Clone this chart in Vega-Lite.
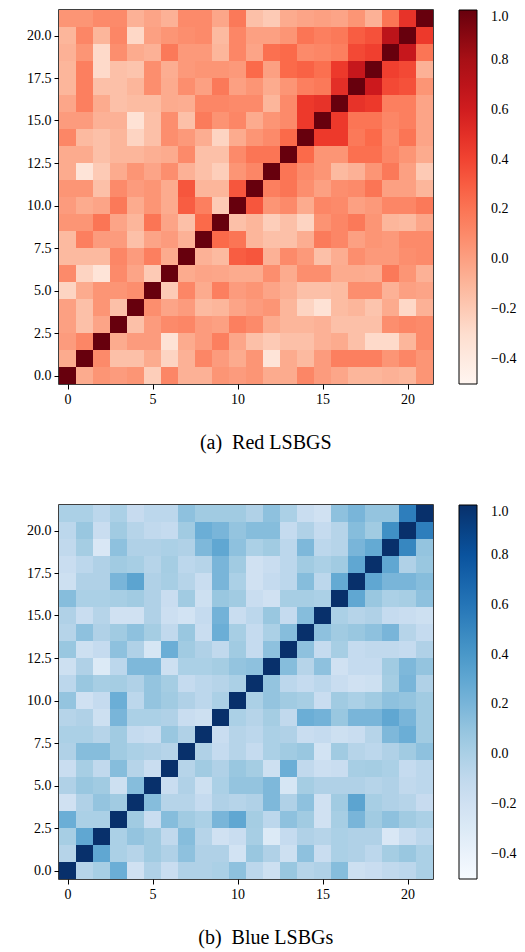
{
"$schema":"https://vega.github.io/schema/vega-lite/v6.json",
"padding":{"left":25,"top":9,"right":5,"bottom":0},
"config":{
"view":{"stroke":"black","strokeWidth":1.5},
"axis":{"labelFont":"Liberation Serif, DejaVu Serif, serif","labelFontSize":14,"labelColor":"black","tickColor":"black","tickSize":5,"tickWidth":1,"domain":false,"grid":false,"labelPadding":3},
"legend":{"labelFont":"Liberation Serif, DejaVu Serif, serif","labelFontSize":14,"labelColor":"black","padding":0},
"title":{"font":"Liberation Serif, DejaVu Serif, serif","fontSize":20,"fontWeight":"normal","color":"black"}
},
"spacing":50,
"resolve":{"scale":{"color":"independent"}},
"vconcat":[
{"width":374,"height":374,
"title":{"text":"(a)\u2002Red LSBGS","orient":"bottom","offset":27,"frame":"bounds","anchor":"middle","dx":-6},
"data":{"name":"red"},
"layer":[
{"mark":{"type":"rect"},
"encoding":{
"x":{"field":"x","type":"ordinal","axis":null,"scale":{"paddingInner":0,"paddingOuter":0}},
"y":{"field":"y","type":"ordinal","axis":null,"sort":"descending","scale":{"paddingInner":0,"paddingOuter":0}},
"color":{"field":"v","type":"quantitative","scale":{"domain":[-0.5,-0.3125,-0.125,0.0625,0.25,0.4375,0.625,0.8125,1.0],"range":["#fff5f0","#fee0d2","#fcbba1","#fc9272","#fb6a4a","#ef3b2c","#cb181d","#a50f15","#67000d"],"interpolate":"rgb"},
"legend":{"title":null,"values":[-0.4,-0.2,0,0.2,0.4,0.6,0.8,1.0],"format":".1f","gradientLength":374,"gradientThickness":18,"offset":26,"gradientStrokeColor":"black","gradientStrokeWidth":1,"labelOffset":14,"labelBaseline":"middle"}}
}},
{"mark":{"type":"point","opacity":0},
"encoding":{
"x":{"field":"x","type":"quantitative","scale":{"domain":[-0.5,21.5],"nice":false,"zero":false},"axis":{"orient":"bottom","values":[0,5,10,15,20],"format":"d","title":null}},
"y":{"field":"y","type":"quantitative","scale":{"domain":[-0.5,21.5],"nice":false,"zero":false},"axis":{"orient":"left","values":[0,2.5,5,7.5,10,12.5,15,17.5,20],"format":".1f","title":null}}
}}
],
"resolve":{"scale":{"x":"independent","y":"independent"}}
},
{"width":374,"height":374,
"title":{"text":"(b)\u2002Blue LSBGs","orient":"bottom","offset":27,"frame":"bounds","anchor":"middle","dx":-6},
"data":{"name":"blue"},
"layer":[
{"mark":{"type":"rect"},
"encoding":{
"x":{"field":"x","type":"ordinal","axis":null,"scale":{"paddingInner":0,"paddingOuter":0}},
"y":{"field":"y","type":"ordinal","axis":null,"sort":"descending","scale":{"paddingInner":0,"paddingOuter":0}},
"color":{"field":"v","type":"quantitative","scale":{"domain":[-0.5,-0.3125,-0.125,0.0625,0.25,0.4375,0.625,0.8125,1.0],"range":["#f7fbff","#deebf7","#c6dbef","#9ecae1","#6baed6","#4292c6","#2171b5","#08519c","#08306b"],"interpolate":"rgb"},
"legend":{"title":null,"values":[-0.4,-0.2,0,0.2,0.4,0.6,0.8,1.0],"format":".1f","gradientLength":374,"gradientThickness":18,"offset":26,"gradientStrokeColor":"black","gradientStrokeWidth":1,"labelOffset":14,"labelBaseline":"middle"}}
}},
{"mark":{"type":"point","opacity":0},
"encoding":{
"x":{"field":"x","type":"quantitative","scale":{"domain":[-0.5,21.5],"nice":false,"zero":false},"axis":{"orient":"bottom","values":[0,5,10,15,20],"format":"d","title":null}},
"y":{"field":"y","type":"quantitative","scale":{"domain":[-0.5,21.5],"nice":false,"zero":false},"axis":{"orient":"left","values":[0,2.5,5,7.5,10,12.5,15,17.5,20],"format":".1f","title":null}}
}}
],
"resolve":{"scale":{"x":"independent","y":"independent"}}
}
],
"datasets":{
"red":[
{"x":0,"y":21,"v":0.05},{"x":1,"y":21,"v":0.05},{"x":2,"y":21,"v":0.1},{"x":3,"y":21,"v":0.1},{"x":4,"y":21,"v":-0.08},{"x":5,"y":21,"v":-0.02},{"x":6,"y":21,"v":-0.08},{"x":7,"y":21,"v":0.1},{"x":8,"y":21,"v":0.1},{"x":9,"y":21,"v":-0.03},{"x":10,"y":21,"v":0.18},{"x":11,"y":21,"v":-0.15},{"x":12,"y":21,"v":-0.2},{"x":13,"y":21,"v":-0.05},{"x":14,"y":21,"v":-0.02},{"x":15,"y":21,"v":0.0},{"x":16,"y":21,"v":-0.02},{"x":17,"y":21,"v":0.05},{"x":18,"y":21,"v":-0.08},{"x":19,"y":21,"v":0.2},{"x":20,"y":21,"v":0.48},{"x":21,"y":21,"v":1.0},
{"x":0,"y":20,"v":-0.1},{"x":1,"y":20,"v":0.12},{"x":2,"y":20,"v":-0.1},{"x":3,"y":20,"v":0.12},{"x":4,"y":20,"v":-0.27},{"x":5,"y":20,"v":0.0},{"x":6,"y":20,"v":0.05},{"x":7,"y":20,"v":0.08},{"x":8,"y":20,"v":0.1},{"x":9,"y":20,"v":-0.12},{"x":10,"y":20,"v":0.12},{"x":11,"y":20,"v":0.0},{"x":12,"y":20,"v":0.0},{"x":13,"y":20,"v":0.05},{"x":14,"y":20,"v":0.2},{"x":15,"y":20,"v":0.15},{"x":16,"y":20,"v":0.18},{"x":17,"y":20,"v":0.3},{"x":18,"y":20,"v":0.35},{"x":19,"y":20,"v":0.7},{"x":20,"y":20,"v":1.0},{"x":21,"y":20,"v":0.45},
{"x":0,"y":19,"v":-0.08},{"x":1,"y":19,"v":0.05},{"x":2,"y":19,"v":-0.28},{"x":3,"y":19,"v":0.08},{"x":4,"y":19,"v":-0.05},{"x":5,"y":19,"v":-0.08},{"x":6,"y":19,"v":0.18},{"x":7,"y":19,"v":0.03},{"x":8,"y":19,"v":0.03},{"x":9,"y":19,"v":-0.1},{"x":10,"y":19,"v":0.12},{"x":11,"y":19,"v":-0.02},{"x":12,"y":19,"v":0.22},{"x":13,"y":19,"v":0.25},{"x":14,"y":19,"v":0.1},{"x":15,"y":19,"v":0.12},{"x":16,"y":19,"v":0.15},{"x":17,"y":19,"v":0.38},{"x":18,"y":19,"v":0.42},{"x":19,"y":19,"v":1.0},{"x":20,"y":19,"v":0.65},{"x":21,"y":19,"v":0.2},
{"x":0,"y":18,"v":-0.1},{"x":1,"y":18,"v":0.15},{"x":2,"y":18,"v":-0.28},{"x":3,"y":18,"v":-0.15},{"x":4,"y":18,"v":-0.17},{"x":5,"y":18,"v":0.08},{"x":6,"y":18,"v":-0.06},{"x":7,"y":18,"v":0.03},{"x":8,"y":18,"v":0.05},{"x":9,"y":18,"v":0.05},{"x":10,"y":18,"v":0.03},{"x":11,"y":18,"v":0.25},{"x":12,"y":18,"v":0.0},{"x":13,"y":18,"v":0.25},{"x":14,"y":18,"v":0.28},{"x":15,"y":18,"v":0.22},{"x":16,"y":18,"v":0.45},{"x":17,"y":18,"v":0.65},{"x":18,"y":18,"v":1.0},{"x":19,"y":18,"v":0.42},{"x":20,"y":18,"v":0.38},{"x":21,"y":18,"v":-0.08},
{"x":0,"y":17,"v":-0.1},{"x":1,"y":17,"v":0.15},{"x":2,"y":17,"v":-0.15},{"x":3,"y":17,"v":-0.15},{"x":4,"y":17,"v":-0.1},{"x":5,"y":17,"v":0.08},{"x":6,"y":17,"v":-0.05},{"x":7,"y":17,"v":0.08},{"x":8,"y":17,"v":0.0},{"x":9,"y":17,"v":0.18},{"x":10,"y":17,"v":0.0},{"x":11,"y":17,"v":0.05},{"x":12,"y":17,"v":-0.05},{"x":13,"y":17,"v":0.05},{"x":14,"y":17,"v":0.15},{"x":15,"y":17,"v":0.18},{"x":16,"y":17,"v":0.5},{"x":17,"y":17,"v":1.0},{"x":18,"y":17,"v":0.62},{"x":19,"y":17,"v":0.38},{"x":20,"y":17,"v":0.35},{"x":21,"y":17,"v":0.05},
{"x":0,"y":16,"v":-0.03},{"x":1,"y":16,"v":0.15},{"x":2,"y":16,"v":-0.05},{"x":3,"y":16,"v":-0.15},{"x":4,"y":16,"v":-0.13},{"x":5,"y":16,"v":-0.13},{"x":6,"y":16,"v":-0.05},{"x":7,"y":16,"v":-0.06},{"x":8,"y":16,"v":0.12},{"x":9,"y":16,"v":0.12},{"x":10,"y":16,"v":0.1},{"x":11,"y":16,"v":0.1},{"x":12,"y":16,"v":-0.1},{"x":13,"y":16,"v":0.1},{"x":14,"y":16,"v":0.45},{"x":15,"y":16,"v":0.48},{"x":16,"y":16,"v":1.0},{"x":17,"y":16,"v":0.48},{"x":18,"y":16,"v":0.45},{"x":19,"y":16,"v":0.15},{"x":20,"y":16,"v":0.15},{"x":21,"y":16,"v":-0.02},
{"x":0,"y":15,"v":0.02},{"x":1,"y":15,"v":0.02},{"x":2,"y":15,"v":-0.08},{"x":3,"y":15,"v":-0.08},{"x":4,"y":15,"v":-0.33},{"x":5,"y":15,"v":-0.15},{"x":6,"y":15,"v":0.08},{"x":7,"y":15,"v":-0.15},{"x":8,"y":15,"v":0.17},{"x":9,"y":15,"v":0.06},{"x":10,"y":15,"v":0.12},{"x":11,"y":15,"v":-0.05},{"x":12,"y":15,"v":0.05},{"x":13,"y":15,"v":0.1},{"x":14,"y":15,"v":0.45},{"x":15,"y":15,"v":1.0},{"x":16,"y":15,"v":0.45},{"x":17,"y":15,"v":0.2},{"x":18,"y":15,"v":0.2},{"x":19,"y":15,"v":0.12},{"x":20,"y":15,"v":0.15},{"x":21,"y":15,"v":-0.02},
{"x":0,"y":14,"v":0.12},{"x":1,"y":14,"v":-0.12},{"x":2,"y":14,"v":-0.15},{"x":3,"y":14,"v":-0.1},{"x":4,"y":14,"v":-0.25},{"x":5,"y":14,"v":-0.15},{"x":6,"y":14,"v":0.08},{"x":7,"y":14,"v":0.03},{"x":8,"y":14,"v":-0.06},{"x":9,"y":14,"v":-0.25},{"x":10,"y":14,"v":-0.05},{"x":11,"y":14,"v":0.05},{"x":12,"y":14,"v":0.1},{"x":13,"y":14,"v":0.25},{"x":14,"y":14,"v":1.0},{"x":15,"y":14,"v":0.45},{"x":16,"y":14,"v":0.45},{"x":17,"y":14,"v":0.18},{"x":18,"y":14,"v":0.25},{"x":19,"y":14,"v":0.1},{"x":20,"y":14,"v":0.2},{"x":21,"y":14,"v":-0.02},
{"x":0,"y":13,"v":-0.05},{"x":1,"y":13,"v":-0.05},{"x":2,"y":13,"v":-0.15},{"x":3,"y":13,"v":-0.1},{"x":4,"y":13,"v":-0.1},{"x":5,"y":13,"v":-0.07},{"x":6,"y":13,"v":-0.05},{"x":7,"y":13,"v":0.1},{"x":8,"y":13,"v":-0.15},{"x":9,"y":13,"v":-0.15},{"x":10,"y":13,"v":0.1},{"x":11,"y":13,"v":0.2},{"x":12,"y":13,"v":0.2},{"x":13,"y":13,"v":1.0},{"x":14,"y":13,"v":0.25},{"x":15,"y":13,"v":0.05},{"x":16,"y":13,"v":0.05},{"x":17,"y":13,"v":0.22},{"x":18,"y":13,"v":0.22},{"x":19,"y":13,"v":0.12},{"x":20,"y":13,"v":0.05},{"x":21,"y":13,"v":-0.05},
{"x":0,"y":12,"v":-0.05},{"x":1,"y":12,"v":-0.35},{"x":2,"y":12,"v":-0.2},{"x":3,"y":12,"v":-0.05},{"x":4,"y":12,"v":0.05},{"x":5,"y":12,"v":-0.02},{"x":6,"y":12,"v":0.08},{"x":7,"y":12,"v":-0.08},{"x":8,"y":12,"v":-0.15},{"x":9,"y":12,"v":-0.22},{"x":10,"y":12,"v":0.05},{"x":11,"y":12,"v":0.12},{"x":12,"y":12,"v":1.0},{"x":13,"y":12,"v":0.2},{"x":14,"y":12,"v":0.1},{"x":15,"y":12,"v":0.05},{"x":16,"y":12,"v":-0.12},{"x":17,"y":12,"v":-0.08},{"x":18,"y":12,"v":0.05},{"x":19,"y":12,"v":0.18},{"x":20,"y":12,"v":0.0},{"x":21,"y":12,"v":-0.2},
{"x":0,"y":11,"v":0.05},{"x":1,"y":11,"v":0.05},{"x":2,"y":11,"v":-0.15},{"x":3,"y":11,"v":0.1},{"x":4,"y":11,"v":0.02},{"x":5,"y":11,"v":0.05},{"x":6,"y":11,"v":-0.05},{"x":7,"y":11,"v":0.33},{"x":8,"y":11,"v":-0.1},{"x":9,"y":11,"v":-0.1},{"x":10,"y":11,"v":0.33},{"x":11,"y":11,"v":1.0},{"x":12,"y":11,"v":0.15},{"x":13,"y":11,"v":0.2},{"x":14,"y":11,"v":0.08},{"x":15,"y":11,"v":0.0},{"x":16,"y":11,"v":0.08},{"x":17,"y":11,"v":0.1},{"x":18,"y":11,"v":0.2},{"x":19,"y":11,"v":0.0},{"x":20,"y":11,"v":0.0},{"x":21,"y":11,"v":-0.1},
{"x":0,"y":10,"v":0.02},{"x":1,"y":10,"v":-0.05},{"x":2,"y":10,"v":-0.02},{"x":3,"y":10,"v":0.18},{"x":4,"y":10,"v":-0.05},{"x":5,"y":10,"v":0.05},{"x":6,"y":10,"v":-0.05},{"x":7,"y":10,"v":0.3},{"x":8,"y":10,"v":0.15},{"x":9,"y":10,"v":-0.2},{"x":10,"y":10,"v":1.0},{"x":11,"y":10,"v":0.33},{"x":12,"y":10,"v":0.05},{"x":13,"y":10,"v":0.1},{"x":14,"y":10,"v":-0.05},{"x":15,"y":10,"v":0.12},{"x":16,"y":10,"v":0.1},{"x":17,"y":10,"v":0.0},{"x":18,"y":10,"v":0.03},{"x":19,"y":10,"v":0.12},{"x":20,"y":10,"v":0.12},{"x":21,"y":10,"v":0.18},
{"x":0,"y":9,"v":0.05},{"x":1,"y":9,"v":0.05},{"x":2,"y":9,"v":0.2},{"x":3,"y":9,"v":-0.02},{"x":4,"y":9,"v":-0.1},{"x":5,"y":9,"v":0.2},{"x":6,"y":9,"v":-0.02},{"x":7,"y":9,"v":-0.15},{"x":8,"y":9,"v":0.25},{"x":9,"y":9,"v":1.0},{"x":10,"y":9,"v":-0.15},{"x":11,"y":9,"v":-0.1},{"x":12,"y":9,"v":-0.22},{"x":13,"y":9,"v":-0.15},{"x":14,"y":9,"v":-0.25},{"x":15,"y":9,"v":0.06},{"x":16,"y":9,"v":0.12},{"x":17,"y":9,"v":0.18},{"x":18,"y":9,"v":0.05},{"x":19,"y":9,"v":-0.1},{"x":20,"y":9,"v":-0.12},{"x":21,"y":9,"v":-0.03},
{"x":0,"y":8,"v":-0.12},{"x":1,"y":8,"v":0.15},{"x":2,"y":8,"v":0.02},{"x":3,"y":8,"v":0.02},{"x":4,"y":8,"v":-0.15},{"x":5,"y":8,"v":-0.02},{"x":6,"y":8,"v":0.02},{"x":7,"y":8,"v":-0.08},{"x":8,"y":8,"v":1.0},{"x":9,"y":8,"v":0.25},{"x":10,"y":8,"v":0.2},{"x":11,"y":8,"v":-0.1},{"x":12,"y":8,"v":-0.15},{"x":13,"y":8,"v":-0.15},{"x":14,"y":8,"v":-0.06},{"x":15,"y":8,"v":0.17},{"x":16,"y":8,"v":0.12},{"x":17,"y":8,"v":0.0},{"x":18,"y":8,"v":0.05},{"x":19,"y":8,"v":0.03},{"x":20,"y":8,"v":0.1},{"x":21,"y":8,"v":0.1},
{"x":0,"y":7,"v":-0.12},{"x":1,"y":7,"v":-0.12},{"x":2,"y":7,"v":-0.12},{"x":3,"y":7,"v":0.12},{"x":4,"y":7,"v":0.02},{"x":5,"y":7,"v":0.15},{"x":6,"y":7,"v":-0.05},{"x":7,"y":7,"v":1.0},{"x":8,"y":7,"v":-0.08},{"x":9,"y":7,"v":-0.12},{"x":10,"y":7,"v":0.3},{"x":11,"y":7,"v":0.33},{"x":12,"y":7,"v":-0.08},{"x":13,"y":7,"v":0.1},{"x":14,"y":7,"v":0.03},{"x":15,"y":7,"v":-0.15},{"x":16,"y":7,"v":-0.06},{"x":17,"y":7,"v":0.08},{"x":18,"y":7,"v":0.03},{"x":19,"y":7,"v":0.03},{"x":20,"y":7,"v":0.08},{"x":21,"y":7,"v":0.1},
{"x":0,"y":6,"v":0.1},{"x":1,"y":6,"v":-0.25},{"x":2,"y":6,"v":-0.35},{"x":3,"y":6,"v":0.1},{"x":4,"y":6,"v":-0.02},{"x":5,"y":6,"v":-0.2},{"x":6,"y":6,"v":1.0},{"x":7,"y":6,"v":-0.05},{"x":8,"y":6,"v":-0.02},{"x":9,"y":6,"v":-0.03},{"x":10,"y":6,"v":-0.05},{"x":11,"y":6,"v":-0.05},{"x":12,"y":6,"v":0.08},{"x":13,"y":6,"v":-0.05},{"x":14,"y":6,"v":0.08},{"x":15,"y":6,"v":0.08},{"x":16,"y":6,"v":-0.05},{"x":17,"y":6,"v":-0.05},{"x":18,"y":6,"v":-0.06},{"x":19,"y":6,"v":0.18},{"x":20,"y":6,"v":0.05},{"x":21,"y":6,"v":-0.08},
{"x":0,"y":5,"v":-0.25},{"x":1,"y":5,"v":-0.05},{"x":2,"y":5,"v":0.05},{"x":3,"y":5,"v":0.05},{"x":4,"y":5,"v":0.08},{"x":5,"y":5,"v":1.0},{"x":6,"y":5,"v":-0.2},{"x":7,"y":5,"v":0.12},{"x":8,"y":5,"v":-0.05},{"x":9,"y":5,"v":0.15},{"x":10,"y":5,"v":0.02},{"x":11,"y":5,"v":0.05},{"x":12,"y":5,"v":-0.02},{"x":13,"y":5,"v":-0.07},{"x":14,"y":5,"v":-0.15},{"x":15,"y":5,"v":-0.15},{"x":16,"y":5,"v":-0.13},{"x":17,"y":5,"v":0.08},{"x":18,"y":5,"v":0.08},{"x":19,"y":5,"v":-0.08},{"x":20,"y":5,"v":0.0},{"x":21,"y":5,"v":-0.02},
{"x":0,"y":4,"v":0.0},{"x":1,"y":4,"v":-0.15},{"x":2,"y":4,"v":0.05},{"x":3,"y":4,"v":-0.15},{"x":4,"y":4,"v":1.0},{"x":5,"y":4,"v":0.08},{"x":6,"y":4,"v":-0.02},{"x":7,"y":4,"v":0.02},{"x":8,"y":4,"v":-0.12},{"x":9,"y":4,"v":-0.1},{"x":10,"y":4,"v":-0.02},{"x":11,"y":4,"v":0.02},{"x":12,"y":4,"v":0.05},{"x":13,"y":4,"v":-0.1},{"x":14,"y":4,"v":-0.25},{"x":15,"y":4,"v":-0.33},{"x":16,"y":4,"v":-0.13},{"x":17,"y":4,"v":-0.1},{"x":18,"y":4,"v":-0.17},{"x":19,"y":4,"v":-0.05},{"x":20,"y":4,"v":-0.27},{"x":21,"y":4,"v":-0.08},
{"x":0,"y":3,"v":0.0},{"x":1,"y":3,"v":-0.15},{"x":2,"y":3,"v":-0.02},{"x":3,"y":3,"v":1.0},{"x":4,"y":3,"v":-0.15},{"x":5,"y":3,"v":0.02},{"x":6,"y":3,"v":0.1},{"x":7,"y":3,"v":0.12},{"x":8,"y":3,"v":0.02},{"x":9,"y":3,"v":0.0},{"x":10,"y":3,"v":0.15},{"x":11,"y":3,"v":0.1},{"x":12,"y":3,"v":-0.05},{"x":13,"y":3,"v":-0.1},{"x":14,"y":3,"v":-0.1},{"x":15,"y":3,"v":-0.08},{"x":16,"y":3,"v":-0.15},{"x":17,"y":3,"v":-0.15},{"x":18,"y":3,"v":-0.15},{"x":19,"y":3,"v":0.08},{"x":20,"y":3,"v":0.12},{"x":21,"y":3,"v":0.1},
{"x":0,"y":2,"v":0.02},{"x":1,"y":2,"v":0.12},{"x":2,"y":2,"v":1.0},{"x":3,"y":2,"v":-0.05},{"x":4,"y":2,"v":0.02},{"x":5,"y":2,"v":0.02},{"x":6,"y":2,"v":-0.33},{"x":7,"y":2,"v":-0.05},{"x":8,"y":2,"v":0.02},{"x":9,"y":2,"v":0.15},{"x":10,"y":2,"v":-0.03},{"x":11,"y":2,"v":-0.15},{"x":12,"y":2,"v":-0.2},{"x":13,"y":2,"v":-0.15},{"x":14,"y":2,"v":-0.15},{"x":15,"y":2,"v":-0.08},{"x":16,"y":2,"v":-0.05},{"x":17,"y":2,"v":-0.15},{"x":18,"y":2,"v":-0.28},{"x":19,"y":2,"v":-0.28},{"x":20,"y":2,"v":-0.1},{"x":21,"y":2,"v":0.1},
{"x":0,"y":1,"v":-0.05},{"x":1,"y":1,"v":1.0},{"x":2,"y":1,"v":0.1},{"x":3,"y":1,"v":-0.15},{"x":4,"y":1,"v":-0.15},{"x":5,"y":1,"v":-0.05},{"x":6,"y":1,"v":-0.25},{"x":7,"y":1,"v":-0.08},{"x":8,"y":1,"v":0.12},{"x":9,"y":1,"v":0.02},{"x":10,"y":1,"v":-0.05},{"x":11,"y":1,"v":0.05},{"x":12,"y":1,"v":-0.35},{"x":13,"y":1,"v":-0.05},{"x":14,"y":1,"v":-0.12},{"x":15,"y":1,"v":0.02},{"x":16,"y":1,"v":0.15},{"x":17,"y":1,"v":0.15},{"x":18,"y":1,"v":0.15},{"x":19,"y":1,"v":0.05},{"x":20,"y":1,"v":0.12},{"x":21,"y":1,"v":0.05},
{"x":0,"y":0,"v":1.0},{"x":1,"y":0,"v":-0.05},{"x":2,"y":0,"v":0.05},{"x":3,"y":0,"v":0.02},{"x":4,"y":0,"v":0.05},{"x":5,"y":0,"v":-0.22},{"x":6,"y":0,"v":0.12},{"x":7,"y":0,"v":-0.08},{"x":8,"y":0,"v":-0.08},{"x":9,"y":0,"v":0.05},{"x":10,"y":0,"v":0.02},{"x":11,"y":0,"v":0.05},{"x":12,"y":0,"v":-0.05},{"x":13,"y":0,"v":-0.05},{"x":14,"y":0,"v":0.12},{"x":15,"y":0,"v":0.02},{"x":16,"y":0,"v":-0.03},{"x":17,"y":0,"v":-0.1},{"x":18,"y":0,"v":-0.1},{"x":19,"y":0,"v":-0.08},{"x":20,"y":0,"v":-0.1},{"x":21,"y":0,"v":0.05}
],
"blue":[
{"x":0,"y":21,"v":0.0},{"x":1,"y":21,"v":0.0},{"x":2,"y":21,"v":-0.08},{"x":3,"y":21,"v":0.0},{"x":4,"y":21,"v":-0.13},{"x":5,"y":21,"v":-0.08},{"x":6,"y":21,"v":-0.08},{"x":7,"y":21,"v":0.12},{"x":8,"y":21,"v":0.05},{"x":9,"y":21,"v":0.05},{"x":10,"y":21,"v":0.05},{"x":11,"y":21,"v":-0.02},{"x":12,"y":21,"v":0.12},{"x":13,"y":21,"v":0.0},{"x":14,"y":21,"v":-0.15},{"x":15,"y":21,"v":-0.2},{"x":16,"y":21,"v":0.12},{"x":17,"y":21,"v":0.2},{"x":18,"y":21,"v":0.1},{"x":19,"y":21,"v":0.1},{"x":20,"y":21,"v":0.55},{"x":21,"y":21,"v":1.0},
{"x":0,"y":20,"v":-0.08},{"x":1,"y":20,"v":0.08},{"x":2,"y":20,"v":-0.15},{"x":3,"y":20,"v":0.05},{"x":4,"y":20,"v":-0.05},{"x":5,"y":20,"v":-0.1},{"x":6,"y":20,"v":-0.12},{"x":7,"y":20,"v":0.05},{"x":8,"y":20,"v":0.25},{"x":9,"y":20,"v":0.2},{"x":10,"y":20,"v":0.1},{"x":11,"y":20,"v":0.15},{"x":12,"y":20,"v":0.15},{"x":13,"y":20,"v":-0.12},{"x":14,"y":20,"v":-0.02},{"x":15,"y":20,"v":-0.12},{"x":16,"y":20,"v":-0.05},{"x":17,"y":20,"v":0.15},{"x":18,"y":20,"v":0.05},{"x":19,"y":20,"v":0.45},{"x":20,"y":20,"v":1.0},{"x":21,"y":20,"v":0.55},
{"x":0,"y":19,"v":-0.1},{"x":1,"y":19,"v":0.03},{"x":2,"y":19,"v":-0.27},{"x":3,"y":19,"v":0.12},{"x":4,"y":19,"v":-0.02},{"x":5,"y":19,"v":-0.02},{"x":6,"y":19,"v":0.0},{"x":7,"y":19,"v":-0.02},{"x":8,"y":19,"v":0.18},{"x":9,"y":19,"v":0.3},{"x":10,"y":19,"v":0.12},{"x":11,"y":19,"v":0.0},{"x":12,"y":19,"v":0.05},{"x":13,"y":19,"v":-0.08},{"x":14,"y":19,"v":0.18},{"x":15,"y":19,"v":-0.08},{"x":16,"y":19,"v":-0.05},{"x":17,"y":19,"v":0.2},{"x":18,"y":19,"v":0.28},{"x":19,"y":19,"v":1.0},{"x":20,"y":19,"v":0.5},{"x":21,"y":19,"v":0.1},
{"x":0,"y":18,"v":-0.15},{"x":1,"y":18,"v":-0.08},{"x":2,"y":18,"v":-0.02},{"x":3,"y":18,"v":0.05},{"x":4,"y":18,"v":0.02},{"x":5,"y":18,"v":-0.05},{"x":6,"y":18,"v":0.03},{"x":7,"y":18,"v":-0.08},{"x":8,"y":18,"v":-0.05},{"x":9,"y":18,"v":0.2},{"x":10,"y":18,"v":0.05},{"x":11,"y":18,"v":-0.2},{"x":12,"y":18,"v":-0.15},{"x":13,"y":18,"v":-0.08},{"x":14,"y":18,"v":0.05},{"x":15,"y":18,"v":0.0},{"x":16,"y":18,"v":0.05},{"x":17,"y":18,"v":0.3},{"x":18,"y":18,"v":1.0},{"x":19,"y":18,"v":0.3},{"x":20,"y":18,"v":-0.02},{"x":21,"y":18,"v":0.08},
{"x":0,"y":17,"v":-0.18},{"x":1,"y":17,"v":-0.02},{"x":2,"y":17,"v":-0.02},{"x":3,"y":17,"v":0.2},{"x":4,"y":17,"v":0.32},{"x":5,"y":17,"v":-0.02},{"x":6,"y":17,"v":0.02},{"x":7,"y":17,"v":-0.05},{"x":8,"y":17,"v":-0.15},{"x":9,"y":17,"v":0.2},{"x":10,"y":17,"v":0.0},{"x":11,"y":17,"v":-0.2},{"x":12,"y":17,"v":-0.12},{"x":13,"y":17,"v":-0.08},{"x":14,"y":17,"v":0.15},{"x":15,"y":17,"v":-0.08},{"x":16,"y":17,"v":0.28},{"x":17,"y":17,"v":1.0},{"x":18,"y":17,"v":0.3},{"x":19,"y":17,"v":0.2},{"x":20,"y":17,"v":0.2},{"x":21,"y":17,"v":0.15},
{"x":0,"y":16,"v":0.15},{"x":1,"y":16,"v":0.0},{"x":2,"y":16,"v":0.0},{"x":3,"y":16,"v":0.02},{"x":4,"y":16,"v":0.05},{"x":5,"y":16,"v":-0.02},{"x":6,"y":16,"v":-0.15},{"x":7,"y":16,"v":0.05},{"x":8,"y":16,"v":-0.18},{"x":9,"y":16,"v":0.08},{"x":10,"y":16,"v":0.05},{"x":11,"y":16,"v":-0.15},{"x":12,"y":16,"v":-0.2},{"x":13,"y":16,"v":0.02},{"x":14,"y":16,"v":0.02},{"x":15,"y":16,"v":0.0},{"x":16,"y":16,"v":1.0},{"x":17,"y":16,"v":0.3},{"x":18,"y":16,"v":0.08},{"x":19,"y":16,"v":0.0},{"x":20,"y":16,"v":0.02},{"x":21,"y":16,"v":0.12},
{"x":0,"y":15,"v":-0.02},{"x":1,"y":15,"v":-0.15},{"x":2,"y":15,"v":-0.05},{"x":3,"y":15,"v":-0.2},{"x":4,"y":15,"v":-0.2},{"x":5,"y":15,"v":-0.02},{"x":6,"y":15,"v":-0.17},{"x":7,"y":15,"v":-0.22},{"x":8,"y":15,"v":-0.12},{"x":9,"y":15,"v":0.22},{"x":10,"y":15,"v":-0.15},{"x":11,"y":15,"v":-0.08},{"x":12,"y":15,"v":0.08},{"x":13,"y":15,"v":-0.12},{"x":14,"y":15,"v":0.15},{"x":15,"y":15,"v":1.0},{"x":16,"y":15,"v":0.0},{"x":17,"y":15,"v":-0.05},{"x":18,"y":15,"v":-0.02},{"x":19,"y":15,"v":-0.12},{"x":20,"y":15,"v":-0.15},{"x":21,"y":15,"v":-0.18},
{"x":0,"y":14,"v":-0.05},{"x":1,"y":14,"v":0.12},{"x":2,"y":14,"v":-0.02},{"x":3,"y":14,"v":0.05},{"x":4,"y":14,"v":0.12},{"x":5,"y":14,"v":0.03},{"x":6,"y":14,"v":-0.1},{"x":7,"y":14,"v":0.08},{"x":8,"y":14,"v":-0.15},{"x":9,"y":14,"v":0.25},{"x":10,"y":14,"v":0.02},{"x":11,"y":14,"v":-0.12},{"x":12,"y":14,"v":0.0},{"x":13,"y":14,"v":0.15},{"x":14,"y":14,"v":1.0},{"x":15,"y":14,"v":0.12},{"x":16,"y":14,"v":0.05},{"x":17,"y":14,"v":0.08},{"x":18,"y":14,"v":0.12},{"x":19,"y":14,"v":0.2},{"x":20,"y":14,"v":-0.05},{"x":21,"y":14,"v":-0.12},
{"x":0,"y":13,"v":0.08},{"x":1,"y":13,"v":-0.18},{"x":2,"y":13,"v":-0.12},{"x":3,"y":13,"v":0.12},{"x":4,"y":13,"v":-0.02},{"x":5,"y":13,"v":-0.25},{"x":6,"y":13,"v":0.25},{"x":7,"y":13,"v":0.05},{"x":8,"y":13,"v":-0.02},{"x":9,"y":13,"v":-0.1},{"x":10,"y":13,"v":0.05},{"x":11,"y":13,"v":-0.12},{"x":12,"y":13,"v":0.12},{"x":13,"y":13,"v":1.0},{"x":14,"y":13,"v":0.12},{"x":15,"y":13,"v":-0.12},{"x":16,"y":13,"v":0.02},{"x":17,"y":13,"v":-0.12},{"x":18,"y":13,"v":-0.1},{"x":19,"y":13,"v":-0.1},{"x":20,"y":13,"v":-0.12},{"x":21,"y":13,"v":-0.02},
{"x":0,"y":12,"v":-0.18},{"x":1,"y":12,"v":-0.02},{"x":2,"y":12,"v":-0.3},{"x":3,"y":12,"v":-0.08},{"x":4,"y":12,"v":0.18},{"x":5,"y":12,"v":0.18},{"x":6,"y":12,"v":-0.18},{"x":7,"y":12,"v":0.0},{"x":8,"y":12,"v":0.0},{"x":9,"y":12,"v":0.03},{"x":10,"y":12,"v":0.1},{"x":11,"y":12,"v":0.12},{"x":12,"y":12,"v":1.0},{"x":13,"y":12,"v":0.15},{"x":14,"y":12,"v":-0.05},{"x":15,"y":12,"v":0.12},{"x":16,"y":12,"v":-0.2},{"x":17,"y":12,"v":-0.12},{"x":18,"y":12,"v":-0.12},{"x":19,"y":12,"v":0.05},{"x":20,"y":12,"v":0.18},{"x":21,"y":12,"v":0.1},
{"x":0,"y":11,"v":-0.08},{"x":1,"y":11,"v":0.08},{"x":2,"y":11,"v":0.02},{"x":3,"y":11,"v":0.03},{"x":4,"y":11,"v":-0.02},{"x":5,"y":11,"v":0.1},{"x":6,"y":11,"v":0.03},{"x":7,"y":11,"v":-0.12},{"x":8,"y":11,"v":-0.08},{"x":9,"y":11,"v":-0.05},{"x":10,"y":11,"v":0.0},{"x":11,"y":11,"v":1.0},{"x":12,"y":11,"v":0.1},{"x":13,"y":11,"v":-0.08},{"x":14,"y":11,"v":-0.12},{"x":15,"y":11,"v":-0.08},{"x":16,"y":11,"v":-0.15},{"x":17,"y":11,"v":-0.2},{"x":18,"y":11,"v":-0.18},{"x":19,"y":11,"v":0.03},{"x":20,"y":11,"v":0.2},{"x":21,"y":11,"v":-0.02},
{"x":0,"y":10,"v":0.1},{"x":1,"y":10,"v":-0.2},{"x":2,"y":10,"v":-0.12},{"x":3,"y":10,"v":0.25},{"x":4,"y":10,"v":-0.08},{"x":5,"y":10,"v":0.1},{"x":6,"y":10,"v":0.05},{"x":7,"y":10,"v":-0.02},{"x":8,"y":10,"v":-0.08},{"x":9,"y":10,"v":0.0},{"x":10,"y":10,"v":1.0},{"x":11,"y":10,"v":0.0},{"x":12,"y":10,"v":0.1},{"x":13,"y":10,"v":0.05},{"x":14,"y":10,"v":0.02},{"x":15,"y":10,"v":-0.15},{"x":16,"y":10,"v":0.05},{"x":17,"y":10,"v":0.0},{"x":18,"y":10,"v":0.05},{"x":19,"y":10,"v":0.12},{"x":20,"y":10,"v":0.1},{"x":21,"y":10,"v":0.05},
{"x":0,"y":9,"v":-0.05},{"x":1,"y":9,"v":-0.02},{"x":2,"y":9,"v":-0.18},{"x":3,"y":9,"v":0.2},{"x":4,"y":9,"v":0.0},{"x":5,"y":9,"v":0.0},{"x":6,"y":9,"v":-0.02},{"x":7,"y":9,"v":-0.15},{"x":8,"y":9,"v":-0.18},{"x":9,"y":9,"v":1.0},{"x":10,"y":9,"v":0.0},{"x":11,"y":9,"v":-0.05},{"x":12,"y":9,"v":0.03},{"x":13,"y":9,"v":-0.1},{"x":14,"y":9,"v":0.25},{"x":15,"y":9,"v":0.22},{"x":16,"y":9,"v":0.08},{"x":17,"y":9,"v":0.2},{"x":18,"y":9,"v":0.2},{"x":19,"y":9,"v":0.3},{"x":20,"y":9,"v":0.2},{"x":21,"y":9,"v":0.05},
{"x":0,"y":8,"v":0.0},{"x":1,"y":8,"v":0.0},{"x":2,"y":8,"v":-0.05},{"x":3,"y":8,"v":0.05},{"x":4,"y":8,"v":-0.12},{"x":5,"y":8,"v":-0.15},{"x":6,"y":8,"v":0.08},{"x":7,"y":8,"v":-0.02},{"x":8,"y":8,"v":1.0},{"x":9,"y":8,"v":-0.15},{"x":10,"y":8,"v":-0.05},{"x":11,"y":8,"v":-0.08},{"x":12,"y":8,"v":0.0},{"x":13,"y":8,"v":-0.02},{"x":14,"y":8,"v":-0.15},{"x":15,"y":8,"v":-0.12},{"x":16,"y":8,"v":-0.18},{"x":17,"y":8,"v":-0.15},{"x":18,"y":8,"v":-0.05},{"x":19,"y":8,"v":0.18},{"x":20,"y":8,"v":0.25},{"x":21,"y":8,"v":0.05},
{"x":0,"y":7,"v":-0.02},{"x":1,"y":7,"v":0.15},{"x":2,"y":7,"v":0.15},{"x":3,"y":7,"v":0.05},{"x":4,"y":7,"v":0.0},{"x":5,"y":7,"v":-0.02},{"x":6,"y":7,"v":-0.05},{"x":7,"y":7,"v":1.0},{"x":8,"y":7,"v":-0.02},{"x":9,"y":7,"v":-0.12},{"x":10,"y":7,"v":-0.05},{"x":11,"y":7,"v":-0.12},{"x":12,"y":7,"v":0.0},{"x":13,"y":7,"v":0.05},{"x":14,"y":7,"v":0.08},{"x":15,"y":7,"v":-0.22},{"x":16,"y":7,"v":0.05},{"x":17,"y":7,"v":-0.05},{"x":18,"y":7,"v":-0.08},{"x":19,"y":7,"v":-0.02},{"x":20,"y":7,"v":0.05},{"x":21,"y":7,"v":0.12},
{"x":0,"y":6,"v":-0.15},{"x":1,"y":6,"v":0.02},{"x":2,"y":6,"v":-0.1},{"x":3,"y":6,"v":0.15},{"x":4,"y":6,"v":-0.05},{"x":5,"y":6,"v":-0.15},{"x":6,"y":6,"v":1.0},{"x":7,"y":6,"v":-0.05},{"x":8,"y":6,"v":0.05},{"x":9,"y":6,"v":-0.02},{"x":10,"y":6,"v":0.08},{"x":11,"y":6,"v":0.03},{"x":12,"y":6,"v":-0.18},{"x":13,"y":6,"v":0.25},{"x":14,"y":6,"v":-0.1},{"x":15,"y":6,"v":-0.17},{"x":16,"y":6,"v":-0.15},{"x":17,"y":6,"v":0.02},{"x":18,"y":6,"v":0.03},{"x":19,"y":6,"v":0.0},{"x":20,"y":6,"v":-0.12},{"x":21,"y":6,"v":-0.08},
{"x":0,"y":5,"v":-0.02},{"x":1,"y":5,"v":0.08},{"x":2,"y":5,"v":0.05},{"x":3,"y":5,"v":-0.18},{"x":4,"y":5,"v":0.15},{"x":5,"y":5,"v":1.0},{"x":6,"y":5,"v":-0.15},{"x":7,"y":5,"v":-0.02},{"x":8,"y":5,"v":-0.18},{"x":9,"y":5,"v":0.0},{"x":10,"y":5,"v":0.1},{"x":11,"y":5,"v":0.1},{"x":12,"y":5,"v":0.18},{"x":13,"y":5,"v":-0.25},{"x":14,"y":5,"v":0.03},{"x":15,"y":5,"v":-0.02},{"x":16,"y":5,"v":-0.02},{"x":17,"y":5,"v":-0.02},{"x":18,"y":5,"v":-0.05},{"x":19,"y":5,"v":-0.02},{"x":20,"y":5,"v":-0.1},{"x":21,"y":5,"v":-0.08},
{"x":0,"y":4,"v":-0.2},{"x":1,"y":4,"v":-0.02},{"x":2,"y":4,"v":0.1},{"x":3,"y":4,"v":0.05},{"x":4,"y":4,"v":1.0},{"x":5,"y":4,"v":0.15},{"x":6,"y":4,"v":-0.05},{"x":7,"y":4,"v":-0.05},{"x":8,"y":4,"v":-0.12},{"x":9,"y":4,"v":-0.02},{"x":10,"y":4,"v":-0.05},{"x":11,"y":4,"v":-0.02},{"x":12,"y":4,"v":0.18},{"x":13,"y":4,"v":-0.02},{"x":14,"y":4,"v":0.12},{"x":15,"y":4,"v":-0.2},{"x":16,"y":4,"v":0.05},{"x":17,"y":4,"v":0.32},{"x":18,"y":4,"v":0.02},{"x":19,"y":4,"v":-0.02},{"x":20,"y":4,"v":-0.05},{"x":21,"y":4,"v":-0.13},
{"x":0,"y":3,"v":0.25},{"x":1,"y":3,"v":0.0},{"x":2,"y":3,"v":0.0},{"x":3,"y":3,"v":1.0},{"x":4,"y":3,"v":0.05},{"x":5,"y":3,"v":-0.15},{"x":6,"y":3,"v":0.15},{"x":7,"y":3,"v":0.05},{"x":8,"y":3,"v":0.0},{"x":9,"y":3,"v":0.2},{"x":10,"y":3,"v":0.3},{"x":11,"y":3,"v":0.03},{"x":12,"y":3,"v":-0.08},{"x":13,"y":3,"v":0.12},{"x":14,"y":3,"v":0.05},{"x":15,"y":3,"v":-0.2},{"x":16,"y":3,"v":0.02},{"x":17,"y":3,"v":0.2},{"x":18,"y":3,"v":0.05},{"x":19,"y":3,"v":0.12},{"x":20,"y":3,"v":0.05},{"x":21,"y":3,"v":0.0},
{"x":0,"y":2,"v":0.02},{"x":1,"y":2,"v":0.3},{"x":2,"y":2,"v":1.0},{"x":3,"y":2,"v":0.0},{"x":4,"y":2,"v":0.1},{"x":5,"y":2,"v":0.05},{"x":6,"y":2,"v":-0.1},{"x":7,"y":2,"v":0.15},{"x":8,"y":2,"v":-0.05},{"x":9,"y":2,"v":-0.2},{"x":10,"y":2,"v":-0.15},{"x":11,"y":2,"v":0.02},{"x":12,"y":2,"v":-0.3},{"x":13,"y":2,"v":-0.12},{"x":14,"y":2,"v":-0.02},{"x":15,"y":2,"v":-0.05},{"x":16,"y":2,"v":0.0},{"x":17,"y":2,"v":-0.02},{"x":18,"y":2,"v":-0.02},{"x":19,"y":2,"v":-0.27},{"x":20,"y":2,"v":-0.15},{"x":21,"y":2,"v":-0.08},
{"x":0,"y":1,"v":-0.05},{"x":1,"y":1,"v":1.0},{"x":2,"y":1,"v":0.3},{"x":3,"y":1,"v":0.0},{"x":4,"y":1,"v":-0.05},{"x":5,"y":1,"v":0.05},{"x":6,"y":1,"v":-0.02},{"x":7,"y":1,"v":0.12},{"x":8,"y":1,"v":-0.02},{"x":9,"y":1,"v":-0.02},{"x":10,"y":1,"v":-0.22},{"x":11,"y":1,"v":0.08},{"x":12,"y":1,"v":-0.02},{"x":13,"y":1,"v":-0.18},{"x":14,"y":1,"v":0.12},{"x":15,"y":1,"v":-0.15},{"x":16,"y":1,"v":0.0},{"x":17,"y":1,"v":-0.02},{"x":18,"y":1,"v":-0.08},{"x":19,"y":1,"v":0.03},{"x":20,"y":1,"v":0.08},{"x":21,"y":1,"v":0.0},
{"x":0,"y":0,"v":1.0},{"x":1,"y":0,"v":-0.05},{"x":2,"y":0,"v":0.02},{"x":3,"y":0,"v":0.25},{"x":4,"y":0,"v":-0.2},{"x":5,"y":0,"v":-0.02},{"x":6,"y":0,"v":-0.15},{"x":7,"y":0,"v":-0.02},{"x":8,"y":0,"v":-0.02},{"x":9,"y":0,"v":0.0},{"x":10,"y":0,"v":0.12},{"x":11,"y":0,"v":-0.08},{"x":12,"y":0,"v":-0.18},{"x":13,"y":0,"v":0.08},{"x":14,"y":0,"v":-0.05},{"x":15,"y":0,"v":-0.02},{"x":16,"y":0,"v":0.15},{"x":17,"y":0,"v":-0.18},{"x":18,"y":0,"v":-0.15},{"x":19,"y":0,"v":-0.1},{"x":20,"y":0,"v":-0.08},{"x":21,"y":0,"v":0.0}
]
}
}
